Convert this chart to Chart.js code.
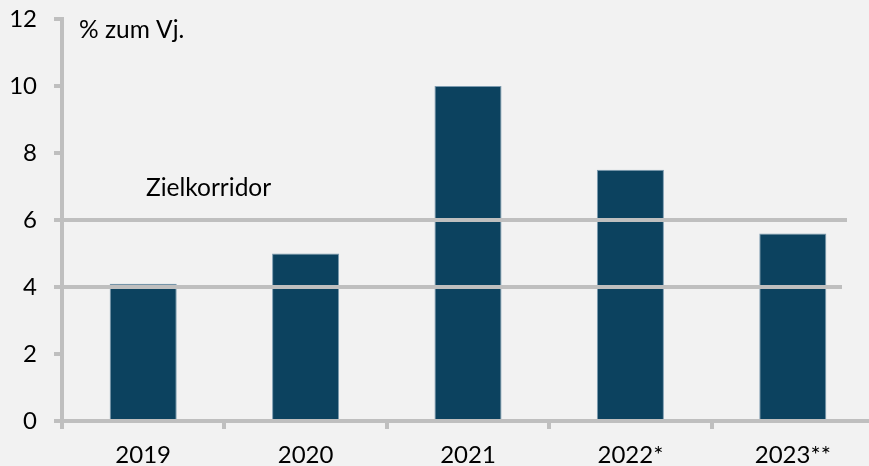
<!DOCTYPE html>
<html lang="de">
<head>
<meta charset="utf-8">
<title>Veränderung zum Vorjahr</title>
<script src="https://cdn.jsdelivr.net/npm/chart.js@4/dist/chart.umd.min.js"></script>
<style>
    html, body {
        margin: 0;
        padding: 0;
        background: #F2F2F2;
        overflow: hidden;
    }
    #grafico {
        display: block;
    }
</style>
</head>
<body>
<canvas id="grafico" width="874" height="466"></canvas>
<script>
// Daten
var jahre = ['2019', '2020', '2021', '2022*', '2023**']
var veraenderung = [4.1, 5.0, 10.0, 7.5, 5.6]
var zielkorridor = [4, 6]
var yTicks = [0, 2, 4, 6, 8, 10, 12]

var corGrade = '#BFBFBF'
var fonte = 'Lato, "Open Sans", sans-serif'

// Hintergrund
const pluginFundo = {
    id: 'fundo',
    beforeDraw(chart) {
        const ctx = chart.ctx
        ctx.save()
        ctx.fillStyle = '#F2F2F2'
        ctx.fillRect(0, 0, chart.width, chart.height)
        ctx.restore()
    }
}

// Zielkorridor-Linien + Beschriftungen
const pluginCorredor = {
    id: 'corredor',
    afterDatasetsDraw(chart) {
        const ctx = chart.ctx
        const y = chart.scales.y
        const area = chart.chartArea
        // obere Linie etwas länger als die untere
        const fimLinha = [842, 847]

        ctx.save()
        ctx.strokeStyle = corGrade
        ctx.lineWidth = 4
        zielkorridor.forEach((valor, i) => {
            const py = Math.round(y.getPixelForValue(valor))
            ctx.beginPath()
            ctx.moveTo(area.left, py)
            ctx.lineTo(fimLinha[i], py)
            ctx.stroke()
        })

        ctx.fillStyle = '#000000'
        ctx.font = '24.5px ' + fonte
        ctx.textBaseline = 'alphabetic'
        ctx.textAlign = 'left'
        ctx.fillText('% zum Vj.', 79, 38)
        ctx.fillText('Zielkorridor', 146, 196)
        ctx.restore()
    }
}

const config = {
    type: 'bar',
    data: {
        labels: jahre,
        datasets: [{
            data: veraenderung,
            backgroundColor: '#0C425F',
            borderColor: '#7C9BB0',
            borderWidth: 1,
            barPercentage: 0.413,
            categoryPercentage: 1
        }]
    },
    options: {
        responsive: false,
        animation: false,
        events: [],
        layout: {
            padding: { top: 19, left: 0, right: 0, bottom: 0 }
        },
        plugins: {
            legend: { display: false },
            tooltip: { enabled: false }
        },
        scales: {
            x: {
                grid: {
                    offset: true,
                    drawOnChartArea: false,
                    drawTicks: true,
                    tickLength: 8,
                    color: corGrade,
                    lineWidth: 4
                },
                border: { color: corGrade, width: 4 },
                ticks: {
                    color: '#000000',
                    font: { family: fonte, size: 24 },
                    padding: 12,
                    maxRotation: 0
                },
                afterFit(scale) {
                    scale.height = 45
                    scale.paddingLeft = 0
                    scale.paddingRight = 0
                }
            },
            y: {
                min: 0,
                max: 12,
                afterBuildTicks(scale) {
                    scale.ticks = yTicks.map(v => ({ value: v }))
                },
                grid: {
                    drawOnChartArea: false,
                    drawTicks: true,
                    tickLength: 8,
                    color: corGrade,
                    lineWidth: 4
                },
                border: { color: corGrade, width: 4 },
                ticks: {
                    color: '#000000',
                    font: { family: fonte, size: 24 },
                    padding: 17
                },
                afterFit(scale) {
                    scale.width = 62
                    scale.paddingTop = 0
                    scale.paddingBottom = 0
                }
            }
        }
    },
    plugins: [pluginFundo, pluginCorredor]
}

new Chart(document.getElementById('grafico'), config)
</script>
</body>
</html>
